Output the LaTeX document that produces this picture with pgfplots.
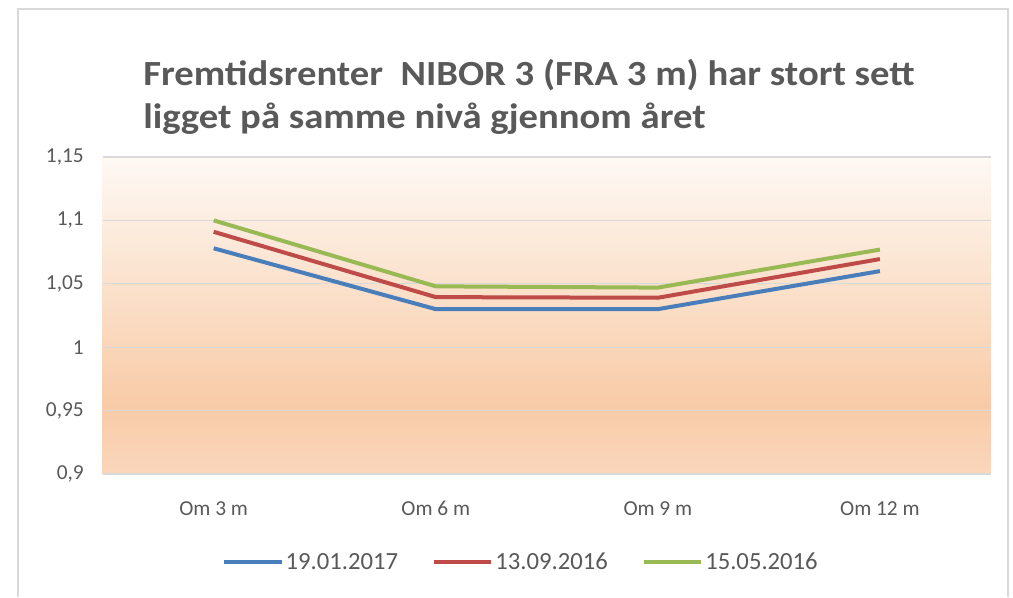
\documentclass[border=0pt]{standalone}
\usepackage{pgfplots}
\pgfplotsset{compat=1.18}
\usepackage{graphicx}
\usepackage{fontspec}
\setmainfont{Carlito}
\definecolor{txt}{HTML}{595959}
\definecolor{gridc}{HTML}{D9D9D9}
\definecolor{frame}{HTML}{D9D9D9}
\definecolor{sblue}{HTML}{4A7EBB}
\definecolor{sred}{HTML}{BE4B48}
\definecolor{sgreen}{HTML}{98B954}
\definecolor{bgtop}{HTML}{FEF9F4}
\definecolor{bgmid}{HTML}{F8CBA7}
\definecolor{bgbot}{HTML}{FAD6BC}
\pgfdeclareverticalshading{chartbg}{100bp}{color(0bp)=(bgbot); color(25bp)=(bgbot); color(36bp)=(bgmid); color(75bp)=(bgtop); color(100bp)=(bgtop)}
\begin{document}
\begin{tikzpicture}
\path[use as bounding box] (0,0) rectangle (759.75pt,447.75pt);
\draw[frame, line width=1.5pt] (13.5pt,0pt) -- (13.5pt,441pt) -- (756pt,441pt) -- (756pt,0pt);
\node[anchor=base west, font=\bfseries\fontsize{26.5}{31}\selectfont, text=txt, inner sep=0pt] at (107.25pt,383.5pt) {\scalebox{1.095}[1]{Fremtidsrenter\ \ NIBOR 3 (FRA 3 m) har stort sett}};
\node[anchor=base west, font=\bfseries\fontsize{26.5}{31}\selectfont, text=txt, inner sep=0pt] at (107.25pt,351.5pt) {\scalebox{1.095}[1]{ligget på samme nivå gjennom året}};
\begin{axis}[
  at={(77pt,92.25pt)}, anchor=south west,
  scale only axis, width=666.2pt, height=237.75pt,
  xmin=-0.5, xmax=3.5, ymin=0.9, ymax=1.15,
  xtick={0,1,2,3}, xticklabels={Om 3 m,Om 6 m,Om 9 m,Om 12 m},
  ytick={0.9,0.95,1,1.05,1.1,1.15},
  yticklabels={{0,9},{0,95},{1},{1,05},{1,1},{1,15}},
  axis line style={draw=none},
  major tick style={draw=none},
  ymajorgrids, grid style={gridc, line width=0.8pt},
  axis background/.style={shading=chartbg},
  tick label style={font=\fontsize{16}{19}\selectfont, text=txt},
  yticklabel style={inner sep=0pt, xshift=-14pt},
  xticklabel style={inner sep=0pt, anchor=north, text height=11pt, text depth=3pt, yshift=-20pt},
  legend style={at={(0.471,-0.278)}, anchor=center, draw=none, fill=none,
    font=\fontsize{18.5}{22}\selectfont, text=txt,
    nodes={inner sep=1.5pt},
    /tikz/every even column/.append style={column sep=24pt}},
  legend columns=3,
  legend image code/.code={\draw[#1, line width=3pt] (0pt,0pt) -- (43pt,0pt);},
  every axis plot/.append style={line width=3pt, line join=round},
]
\addplot[sblue, no markers] coordinates {(0,1.078) (1,1.030) (2,1.030) (3,1.060)};
\addplot[sred, no markers] coordinates {(0,1.091) (1,1.0395) (2,1.039) (3,1.0695)};
\addplot[sgreen, no markers] coordinates {(0,1.100) (1,1.048) (2,1.047) (3,1.077)};
\legend{19.01.2017,13.09.2016,15.05.2016}
\end{axis}
\end{tikzpicture}
\end{document}
